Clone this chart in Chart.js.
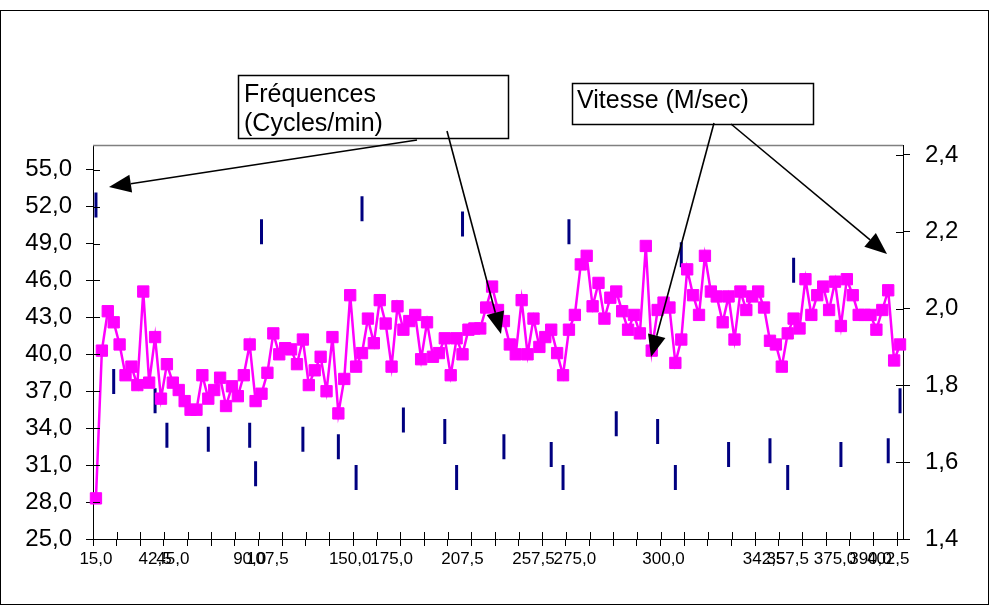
<!DOCTYPE html>
<html>
<head>
<meta charset="utf-8">
<script src="https://cdn.jsdelivr.net/npm/chart.js@4/dist/chart.umd.min.js"></script>
<style>
  html, body { margin: 0; padding: 0; background: #fff; }
  #wrap { position: relative; width: 990px; height: 615px; }
</style>
</head>
<body>
<div id="wrap"><canvas id="freqChart" width="990" height="615"></canvas></div>
<script>
// category labels (most cells are empty in the source sheet)
var timeLabels = [
  '15,0', '', '', '', '', '', '', '', '', '',
  '42,5', '', '', '45,0', '', '', '', '', '', '',
  '', '', '', '', '', '', '90,0', '', '', '107,5',
  '', '', '', '', '', '', '', '', '', '',
  '', '', '', '150,0', '', '', '', '', '', '',
  '175,0', '', '', '', '', '', '', '', '', '',
  '', '', '207,5', '', '', '', '', '', '', '',
  '', '', '', '', '257,5', '', '', '', '', '',
  '', '275,0', '', '', '', '', '', '', '', '',
  '', '', '', '', '', '', '300,0', '', '', '',
  '', '', '', '', '', '', '', '', '', '',
  '', '', '', '342,5', '', '', '', '357,5', '', '',
  '', '', '', '', '', '375,0', '', '', '', '',
  '', '390,0', '', '', '402,5', '', ''
];

// Fréquences (cycles/min) - left axis
var freqValues = [
  28.3, 40.3, 43.5, 42.6, 40.8, 38.3, 39.0, 37.5, 45.1, 37.7,
  41.4, 36.4, 39.2, 37.7, 37.1, 36.2, 35.5, 35.5, 38.3, 36.4,
  37.1, 38.1, 35.8, 37.4, 36.6, 38.3, 40.8, 36.2, 36.8, 38.5,
  41.7, 40.0, 40.5, 40.4, 39.2, 41.2, 37.5, 38.7, 39.8, 37.0,
  41.4, 35.2, 38.0, 44.8, 39.0, 40.1, 42.9, 40.9, 44.4, 42.5,
  39.0, 43.9, 42.0, 42.7, 43.2, 39.6, 42.6, 39.8, 40.1, 41.3,
  38.3, 41.3, 40.0, 42.0, 42.1, 42.1, 43.8, 45.5, 43.6, 42.7,
  40.8, 40.0, 44.4, 40.0, 42.9, 40.6, 41.4, 42.0, 40.1, 38.3,
  42.0, 43.2, 47.3, 48.0, 43.9, 45.8, 42.9, 44.6, 45.1, 43.5,
  42.0, 43.2, 41.7, 48.8, 40.3, 43.6, 44.2, 43.8, 39.3, 41.2,
  46.9, 44.8, 43.2, 48.0, 45.1, 44.7, 42.6, 44.7, 41.2, 45.1,
  43.6, 44.7, 45.1, 43.8, 41.1, 40.8, 39.0, 41.7, 42.9, 42.1,
  46.1, 43.2, 44.8, 45.5, 43.6, 45.9, 42.3, 46.1, 44.8, 43.2,
  43.2, 43.2, 42.0, 43.6, 45.2, 39.5, 40.8
];

// Vitesse (M/sec) - right axis, only measured at some times
var speedValues = [
  2.27, null, null, 1.81, null, null, null, null, null, null,
  1.76, null, 1.67, null, null, null, null, null, null, 1.66,
  null, null, null, null, null, null, 1.67, 1.57, 2.20, null,
  null, null, null, null, null, 1.66, null, null, null, null,
  null, 1.64, null, null, 1.56, 2.26, null, null, null, null,
  null, null, 1.71, null, null, null, null, null, null, 1.68,
  null, 1.56, 2.22, null, null, null, null, null, null, 1.64,
  null, null, null, null, null, null, null, 1.62, null, 1.56,
  2.20, null, null, null, null, null, null, null, 1.70, null,
  null, null, null, null, null, 1.68, null, null, 1.56, 2.14,
  null, null, null, null, null, null, null, 1.62, null, null,
  null, null, null, null, 1.63, null, null, 1.56, 2.10, null,
  null, null, null, null, null, null, 1.62, null, null, null,
  null, null, null, null, 1.63, null, 1.76
];

var leftTicks = [25, 28, 31, 34, 37, 40, 43, 46, 49, 52, 55];
var rightTicks = [1.4, 1.6, 1.8, 2.0, 2.2, 2.4];

function commaFmt(v) {
    return Number(v).toFixed(1).replace('.', ',');
}

// frame, annotation boxes and arrows, cross tick marks
var decorPlugin = {
    id: 'decor',
    beforeDraw: function (chart) {
        var ctx = chart.ctx;
        ctx.save();
        ctx.fillStyle = '#fff';
        ctx.fillRect(0, 0, 990, 615);
        ctx.strokeStyle = '#000';
        ctx.lineWidth = 1;
        ctx.strokeRect(0.5, 10.5, 988, 594);
        ctx.restore();
    },
    afterDraw: function (chart) {
        var ctx = chart.ctx;
        var a = chart.chartArea;
        var x = chart.scales.x, yl = chart.scales.y, yr = chart.scales.y1;
        ctx.save();
        // gray top border of plot area
        ctx.strokeStyle = '#808080';
        ctx.lineWidth = 1.5;
        ctx.beginPath();
        ctx.moveTo(a.left, a.top + 0.5);
        ctx.lineTo(a.right, a.top + 0.5);
        ctx.stroke();

        // inner half of the cross tick marks
        ctx.strokeStyle = '#000';
        ctx.lineWidth = 1;
        ctx.beginPath();
        yl.ticks.forEach(function (t) {
            var py = Math.round(yl.getPixelForValue(t.value)) + 0.5;
            ctx.moveTo(a.left, py); ctx.lineTo(a.left + 7, py);
        });
        yr.ticks.forEach(function (t) {
            var py = Math.round(yr.getPixelForValue(t.value)) + 0.5;
            ctx.moveTo(a.right, py); ctx.lineTo(a.right - 7, py);
        });
        var half = (x.getPixelForTick(1) - x.getPixelForTick(0)) / 2;
        for (var i = 0; i < timeLabels.length; i += 4) {
            var px = Math.round(x.getPixelForTick(i) - half) + 0.5;
            ctx.moveTo(px, a.bottom); ctx.lineTo(px, a.bottom - 7);
        }
        ctx.stroke();

        // text boxes
        function box(x0, y0, w, h) {
            ctx.fillStyle = '#fff';
            ctx.fillRect(x0, y0, w, h);
            ctx.strokeStyle = '#000';
            ctx.lineWidth = 1.5;
            ctx.strokeRect(x0, y0, w, h);
        }
        function arrow(x0, y0, x1, y1) {
            var ang = Math.atan2(y1 - y0, x1 - x0);
            var len = 22, wid = 9;
            var bx = x1 - Math.cos(ang) * len, by = y1 - Math.sin(ang) * len;
            ctx.strokeStyle = '#000';
            ctx.lineWidth = 1.6;
            ctx.beginPath();
            ctx.moveTo(x0, y0);
            ctx.lineTo(bx, by);
            ctx.stroke();
            ctx.fillStyle = '#000';
            ctx.beginPath();
            ctx.moveTo(x1, y1);
            ctx.lineTo(bx + Math.sin(ang) * wid, by - Math.cos(ang) * wid);
            ctx.lineTo(bx - Math.sin(ang) * wid, by + Math.cos(ang) * wid);
            ctx.closePath();
            ctx.fill();
        }
        box(238.5, 75.5, 270, 63);
        box(572.5, 83.5, 241, 41);
        ctx.fillStyle = '#000';
        ctx.font = '25px "Liberation Sans", Arial, sans-serif';
        ctx.textBaseline = 'alphabetic';
        ctx.fillText('Fréquences', 244, 102);
        ctx.fillText('(Cycles/min)', 244, 131);
        ctx.fillText('Vitesse (M/sec)', 577, 108);

        arrow(417, 140, 109, 187);
        arrow(447, 131, 501, 334);
        arrow(714, 123, 651, 357);
        arrow(731, 124, 887, 254);
        ctx.restore();
    }
};

var freqCtx = document.getElementById('freqChart').getContext('2d');
new Chart(freqCtx, {
    type: 'line',
    data: {
        labels: timeLabels,
        datasets: [
            {
                label: 'Fréquences (Cycles/min)',
                data: freqValues,
                yAxisID: 'y',
                borderColor: '#ff00ff',
                backgroundColor: '#ff00ff',
                borderWidth: 2.5,
                pointStyle: 'rect',
                pointRadius: 8,
                pointBorderWidth: 1,
                tension: 0,
                order: 1
            },
            {
                label: 'Vitesse (M/sec)',
                data: speedValues,
                yAxisID: 'y1',
                showLine: false,
                borderColor: '#000080',
                backgroundColor: '#000080',
                pointStyle: 'line',
                rotation: 90,
                pointRadius: 12.5,
                pointBorderWidth: 3,
                order: 2
            }
        ]
    },
    options: {
        responsive: false,
        animation: false,
        layout: { padding: { top: 145, left: 0, right: 0, bottom: 0 } },
        plugins: {
            legend: { display: false },
            tooltip: { enabled: false }
        },
        scales: {
            x: {
                type: 'category',
                offset: true,
                grid: {
                    offset: true,
                    drawOnChartArea: false,
                    tickLength: 7,
                    tickColor: function (c) {
                        return (c.index !== undefined && c.index % 4 === 0) ? '#000' : 'rgba(0,0,0,0)';
                    }
                },
                border: { color: '#000', width: 1 },
                ticks: {
                    autoSkip: false,
                    maxRotation: 0,
                    minRotation: 0,
                    padding: 3,
                    color: '#000',
                    font: { family: '"Liberation Sans", Arial, sans-serif', size: 17 }
                },
                afterFit: function (s) { s.height = 76; }
            },
            y: {
                type: 'linear',
                position: 'left',
                min: 25,
                max: 57,
                afterBuildTicks: function (s) {
                    s.ticks = leftTicks.map(function (v) { return { value: v }; });
                },
                grid: { drawOnChartArea: false, tickLength: 7, tickColor: '#000' },
                border: { color: '#000', width: 1 },
                ticks: {
                    padding: 14,
                    color: '#000',
                    callback: commaFmt,
                    font: { family: '"Liberation Sans", Arial, sans-serif', size: 24 }
                },
                afterFit: function (s) { s.width = 93; }
            },
            y1: {
                type: 'linear',
                position: 'right',
                min: 1.4,
                max: 2.426,
                afterBuildTicks: function (s) {
                    s.ticks = rightTicks.map(function (v) { return { value: v }; });
                },
                grid: { drawOnChartArea: false, tickLength: 7, tickColor: '#000' },
                border: { color: '#000', width: 1 },
                ticks: {
                    padding: 15,
                    color: '#000',
                    callback: commaFmt,
                    font: { family: '"Liberation Sans", Arial, sans-serif', size: 24 }
                },
                afterFit: function (s) { s.width = 87; }
            }
        }
    },
    plugins: [decorPlugin]
});
</script>
</body>
</html>
